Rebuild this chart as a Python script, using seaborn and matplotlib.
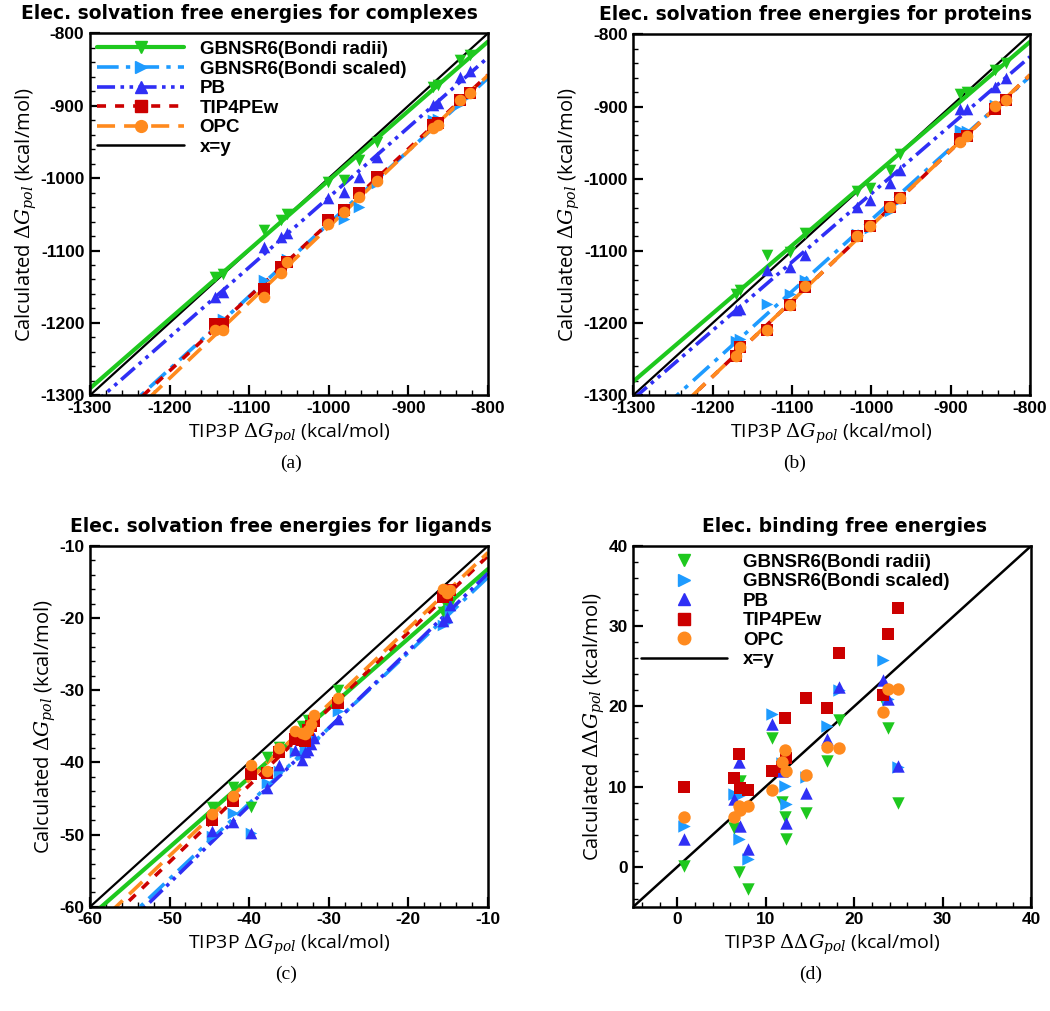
import matplotlib
matplotlib.use("Agg")
import matplotlib.pyplot as plt
from matplotlib.lines import Line2D
from matplotlib.ticker import MultipleLocator
import numpy as np
import seaborn as sns

# ---- data ------------------------------------------------------------------
series_names = ["GBNSR6(Bondi radii)", "GBNSR6(Bondi scaled)", "PB", "TIP4PEw", "OPC"]

# (a) complexes
cx_tip3p = [-1143, -1133, -1081, -1060, -1052, -1001, -981, -962, -940, -869, -863, -835, -822]
cx_gb_radii = [-1136, -1132, -1072, -1058, -1049, -1005, -1003, -975, -950, -874, -871, -837, -830]
cx_gb_scaled = [-1203, -1195, -1141, -1123, -1112, -1060, -1056, -1040, -1007, -920, -918, -897, -885]
cx_pb = [-1164, -1157, -1095, -1081, -1076, -1028, -1019, -998, -971, -899, -896, -860, -852]
cx_tip4pew = [-1201, -1201, -1153, -1123, -1116, -1058, -1044, -1021, -998, -927, -924, -892, -882]
cx_opc = [-1210, -1210, -1164, -1131, -1116, -1064, -1047, -1026, -1004, -931, -927, -892, -882]

# (b) proteins
pr_tip3p = [-1170, -1166, -1131, -1103, -1083, -1018, -1001, -977, -964, -888, -879, -844, -830]
pr_gb_radii = [-1159, -1154, -1106, -1102, -1075, -1017, -1013, -988, -966, -883, -880, -849, -840]
pr_gb_scaled = [-1225, -1222, -1174, -1160, -1140, -1076, -1068, -1044, -1030, -932, -934, -898, -890]
pr_pb = [-1182, -1180, -1127, -1122, -1105, -1039, -1030, -1006, -988, -903, -903, -873, -861]
pr_tip4pew = [-1245, -1233, -1210, -1175, -1150, -1080, -1066, -1039, -1026, -945, -941, -903, -891]
pr_opc = [-1245, -1233, -1210, -1175, -1148, -1080, -1066, -1039, -1026, -949, -941, -899, -891]

# (c) ligands
lg_tip3p = [-44.7, -42.0, -39.8, -37.8, -36.2, -34.2, -33.4, -33.0, -32.6, -32.2, -31.9, -28.8, -15.6, -15.2, -14.8]
lg_gb_radii = [-46.1, -43.4, -46.1, -39.3, -37.8, -36.5, -35.0, -35.5, -34.1, -35.0, -34.0, -30.0, -19.1, -18.5, -18.0]
lg_gb_scaled = [-50.2, -47.0, -49.8, -42.9, -41.2, -38.5, -39.0, -38.0, -38.0, -37.0, -36.8, -32.8, -21.0, -20.5, -18.9]
lg_pb = [-49.5, -48.2, -49.8, -43.5, -40.4, -38.3, -39.6, -38.5, -38.3, -37.5, -36.6, -34.0, -20.4, -19.8, -18.2]
lg_tip4pew = [-47.9, -45.4, -41.6, -41.5, -38.5, -36.8, -36.9, -37.0, -35.5, -35.0, -34.3, -31.7, -17.1, -16.8, -16.1]
lg_opc = [-47.2, -44.7, -40.4, -41.2, -38.0, -35.7, -35.9, -36.0, -35.5, -34.6, -33.4, -31.1, -15.9, -16.5, -16.1]

# (d) binding
bd_tip3p = [0.75, 6.4, 7.0, 7.1, 8.0, 10.75, 11.8, 12.2, 12.3, 14.6, 16.9, 18.3, 23.2, 23.8, 25.0]
bd_gb_radii = [0.1, 4.8, -0.7, 10.7, -2.8, 16.1, 8.1, 6.2, 3.5, 6.7, 13.2, 18.3, 20.8, 17.3, 8.0]
bd_gb_scaled = [5.1, 9.1, 3.5, 9.0, 1.0, 19.1, 12.9, 10.1, 7.8, 11.2, 17.5, 22.0, 25.8, 20.9, 12.5]
bd_pb = [3.5, 8.4, 13.1, 5.1, 2.2, 17.8, 11.9, 12.5, 5.5, 9.2, 15.9, 22.4, 23.3, 20.9, 12.6]
bd_tip4pew = [9.9, 11.1, 14.1, 9.8, 9.6, 11.9, 12.5, 18.5, 13.6, 21.0, 19.8, 26.7, 21.4, 29.0, 32.3]
bd_opc = [6.2, 6.2, 7.6, 7.1, 7.6, 9.6, 13.1, 14.6, 11.9, 11.4, 14.9, 14.8, 19.3, 22.2, 22.2]

# ---- styles ---------------------------------------------------------------
colors = ["#1ec81e", "#1e9bff", "#2f2ff5", "#cc0000", "#ff8a1e"]
markers = ["v", ">", "^", "s", "o"]
dashes = ["-", (0, (6, 2, 1.2, 2)), (0, (5, 1.5, 1, 1.5, 1, 1.5)), (0, (2.5, 2.5)), (0, (5, 2.5))]
line_w = [3.0, 2.6, 2.6, 2.6, 2.6]

sns.set_theme(style="ticks")
plt.rcParams["font.family"] = ["Liberation Sans", "DejaVu Sans"]
plt.rcParams["mathtext.fontset"] = "dejavuserif"
plt.rcParams["axes.unicode_minus"] = False
plt.rcParams["axes.linewidth"] = 1.8
for key in ["text.color", "axes.labelcolor", "axes.edgecolor", "xtick.color", "ytick.color"]:
    plt.rcParams[key] = "black"

fig = plt.figure(figsize=(10.5, 10.11), dpi=100)
ax_a = fig.add_axes([0.0857, 0.609, 0.379, 0.358])
ax_b = fig.add_axes([0.603, 0.609, 0.378, 0.357])
ax_c = fig.add_axes([0.0857, 0.103, 0.379, 0.357])
ax_d = fig.add_axes([0.603, 0.103, 0.379, 0.357])

xlabel_font = {"family": "Open Sans", "size": 14}
ylabel_font = {"family": "Open Sans", "size": 14.5}
tick_font = 12.5


def style_axes(ax, lims, major, minor, title, title_x, xlabel, ylabel):
    ax.set_xlim(lims)
    ax.set_ylim(lims)
    ax.xaxis.set_major_locator(MultipleLocator(major))
    ax.yaxis.set_major_locator(MultipleLocator(major))
    ax.xaxis.set_minor_locator(MultipleLocator(minor))
    ax.yaxis.set_minor_locator(MultipleLocator(minor))
    ax.tick_params(which="major", direction="in", length=7, width=1.6,
                   labelsize=tick_font, pad=4)
    ax.tick_params(which="minor", direction="in", length=3.5, width=1.0)
    for lab in ax.get_xticklabels() + ax.get_yticklabels():
        lab.set_fontweight("bold")
    ax.set_title(title, fontsize=13.5, fontweight="bold", family="DejaVu Sans",
                 x=title_x, pad=10)
    ax.set_xlabel(xlabel, fontdict=xlabel_font, labelpad=4)
    ax.set_ylabel(ylabel, fontdict=ylabel_font, labelpad=1)


def fit_panel(ax, x, ys, lims):
    ax.set_xlim(lims)
    ax.axline((0, 0), slope=1, color="black", lw=1.6, zorder=1)
    for i, y in enumerate(ys):
        sns.regplot(x=np.array(x), y=np.array(y), ax=ax, ci=None, truncate=False,
                    marker=markers[i], color=colors[i],
                    scatter_kws={"s": 70, "alpha": 1, "linewidths": 0, "zorder": 3},
                    line_kws={"lw": line_w[i], "ls": dashes[i], "zorder": 2})


def line_handles():
    hs = [Line2D([], [], color=colors[i], marker=markers[i], ls=dashes[i],
                 lw=line_w[i], markersize=8.5) for i in range(5)]
    hs.append(Line2D([], [], color="black", lw=1.8))
    return hs


legend_kw = dict(loc="upper left", frameon=False, handlelength=4.6,
                 labelspacing=0.13, handletextpad=0.85, borderaxespad=0.15,
                 borderpad=0.25, prop={"weight": "bold", "size": 13.5})

xl = r"TIP3P $\Delta G_{pol}$ (kcal/mol)"
yl = r"Calculated $\Delta G_{pol}$ (kcal/mol)"

# (a)
fit_panel(ax_a, cx_tip3p, [cx_gb_radii, cx_gb_scaled, cx_pb, cx_tip4pew, cx_opc], (-1300, -800))
style_axes(ax_a, (-1300, -800), 100, 20, "Elec. solvation free energies for complexes",
           0.40, xl, yl)
ax_a.legend(line_handles(), series_names + ["x=y"], **legend_kw)

# (b)
fit_panel(ax_b, pr_tip3p, [pr_gb_radii, pr_gb_scaled, pr_pb, pr_tip4pew, pr_opc], (-1300, -800))
style_axes(ax_b, (-1300, -800), 100, 20, "Elec. solvation free energies for proteins",
           0.46, xl, yl)

# (c)
fit_panel(ax_c, lg_tip3p, [lg_gb_radii, lg_gb_scaled, lg_pb, lg_tip4pew, lg_opc], (-60, -10))
style_axes(ax_c, (-60, -10), 10, 2, "Elec. solvation free energies for ligands",
           0.48, xl, yl)

# (d)
ax_d.axline((0, 0), slope=1, color="black", lw=1.8, zorder=1)
for i, y in enumerate([bd_gb_radii, bd_gb_scaled, bd_pb, bd_tip4pew, bd_opc]):
    sns.scatterplot(x=bd_tip3p, y=y, ax=ax_d, marker=markers[i], color=colors[i],
                    s=80, linewidth=0, zorder=3)
style_axes(ax_d, (-5, 40), 10, 2, "Elec. binding free energies", 0.53,
           r"TIP3P $\Delta\Delta G_{pol}$ (kcal/mol)",
           r"Calculated $\Delta\Delta G_{pol}$ (kcal/mol)")
d_handles = [Line2D([], [], color=colors[i], marker=markers[i], ls="none", markersize=9)
             for i in range(5)]
d_handles.append(Line2D([], [], color="black", lw=1.8))
ax_d.legend(d_handles, series_names + ["x=y"], **legend_kw)

for ax in (ax_a, ax_b, ax_c, ax_d):
    for sp in ax.spines.values():
        sp.set_visible(True)
        sp.set_linewidth(1.8)
        sp.set_color("black")

# panel letters
for txt, x, y in [("(a)", 0.277, 0.542), ("(b)", 0.757, 0.542),
                  ("(c)", 0.272, 0.036), ("(d)", 0.772, 0.036)]:
    fig.text(x, y, txt, ha="center", va="center", fontsize=14, family="Liberation Serif")

fig.savefig("out.png", dpi=100)
